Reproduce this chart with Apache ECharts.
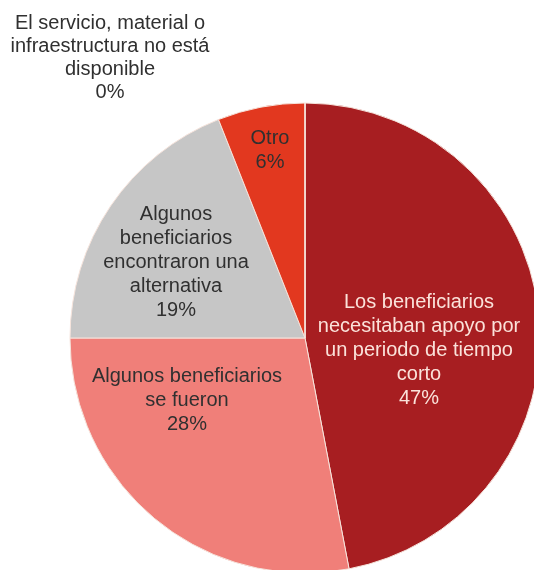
<!DOCTYPE html>
<html>
<head>
<meta charset="utf-8">
<script src="https://cdn.jsdelivr.net/npm/echarts@6/dist/echarts.min.js"></script>
<style>
  html, body { margin: 0; padding: 0; background: #fff; }
  #chart { width: 534px; height: 570px; }
</style>
</head>
<body>
<div id="chart"></div>
<script>
// datos
const categories = [
  "Los beneficiarios\nnecesitaban apoyo por\nun periodo de tiempo\ncorto",
  "Algunos beneficiarios\nse fueron",
  "Algunos\nbeneficiarios\nencontraron una\nalternativa",
  "Otro",
  "El servicio, material o\ninfraestructura no está\ndisponible",
];
const values = [47, 28, 19, 6, 0];
const colors = ["#a71e21", "#f07f79", "#c6c6c6", "#e2381f", "#c6c6c6"];
const labelColors = ["#fbe2da", "#303030", "#303030", "#303030", "#303030"];

// centro de cada etiqueta (px)
const labelCenters = [
  [419, 350],
  [187, 400],
  [176, 262],
  [270, 150],
  [110, 58],
];

const myChart = echarts.init(document.getElementById("chart"));

const option = {
  animation: false,
  backgroundColor: "#fff",
  series: [
    {
      type: "pie",
      center: [305, 338],
      radius: 235,
      startAngle: 90,
      clockwise: true,
      avoidLabelOverlap: false,
      itemStyle: {
        borderColor: "#f6e4dc",
        borderWidth: 1,
      },
      label: {
        show: true,
        position: "inside",
        fontFamily: "Liberation Sans, Arial, sans-serif",
        fontSize: 20,
        lineHeight: 24,
        align: "center",
        formatter: (p) => `${p.name}\n${p.value}%`,
      },
      labelLine: { show: false },
      emphasis: { disabled: true },
      labelLayout: (params) => {
        const c = labelCenters[params.dataIndex];
        return {
          x: c[0],
          y: c[1],
          align: "center",
          verticalAlign: "middle",
        };
      },
      data: categories.map((name, i) => ({
        name,
        value: values[i],
        itemStyle: { color: colors[i] },
        label: {
          color: labelColors[i],
          lineHeight: i === 4 ? 23 : 24,
        },
      })),
    },
  ],
};

myChart.setOption(option);
</script>
</body>
</html>
